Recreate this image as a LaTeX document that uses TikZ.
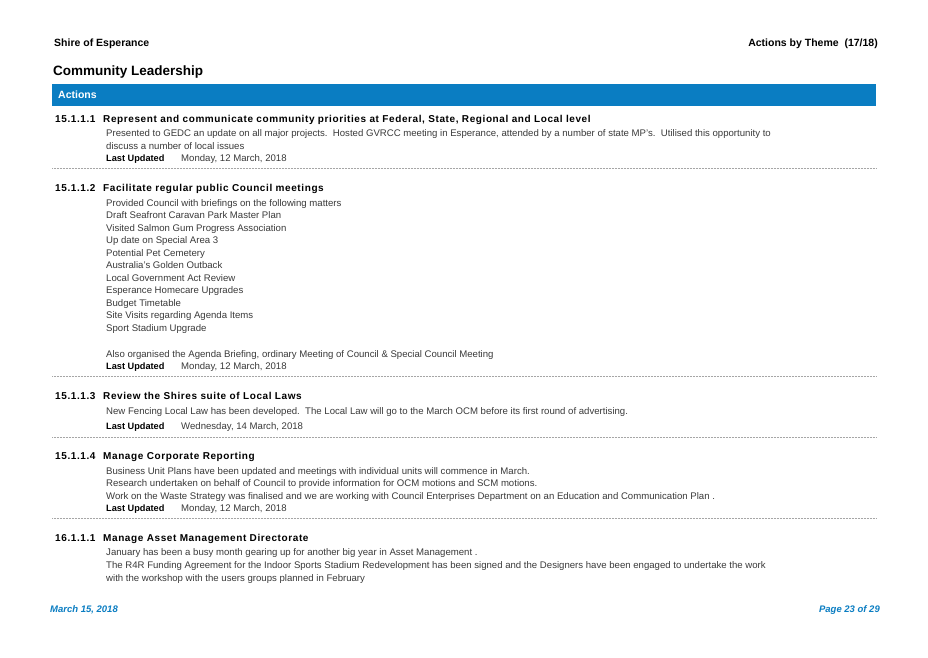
\documentclass[tikz,border=0pt]{standalone}
\usepackage{fontspec}
\setmainfont{Liberation Sans}
\definecolor{barblue}{HTML}{0A7DC2}
\definecolor{bodygrey}{HTML}{3A3A3A}
\begin{document}
\begin{tikzpicture}[x=1pt,y=-1pt,
  t/.style={anchor=base west,inner sep=0pt,font=\fontsize{9.6}{11}\selectfont,text=bodygrey},
  h/.style={anchor=base west,inner sep=0pt,font=\fontsize{10}{11}\selectfont\bfseries\addfontfeature{LetterSpace=6}},
  hh/.style={anchor=base west,inner sep=0pt,font=\fontsize{10.5}{11}\selectfont\bfseries},
  lu/.style={anchor=base west,inner sep=0pt,font=\fontsize{9.2}{10}\selectfont\bfseries},
  sep/.style={densely dotted,gray!70,line width=0.5pt}]
\useasboundingbox (0,0) rectangle (928,657);
\fill[white] (0,0) rectangle (928,657);
\node[hh] (shire) at (54,46) {Shire of Esperance};
\node[hh,anchor=base east] (abt) at (878,46) {Actions by Theme\ \ (17/18)};
\node[anchor=base west,inner sep=0pt,font=\fontsize{13.5}{15}\selectfont\bfseries] (title) at (53,75) {Community Leadership};
\fill[barblue] (52,84) rectangle (876,106);
\node[hh,text=white] (act) at (58,98) {Actions};
% 15.1.1.1
\node[h] at (55,122) {15.1.1.1}; \node[h] at (103,122) {Represent and communicate community priorities at Federal, State, Regional and Local level};
\node[t] at (106,136) {Presented to GEDC an update on all major projects.\ \ Hosted GVRCC meeting in Esperance, attended by a number of state MP's.\ \ Utilised this opportunity to};
\node[t] at (106,149) {discuss a number of local issues};
\node[lu] at (106,161) {Last Updated}; \node[t] at (181,161) {Monday, 12 March, 2018};
\draw[sep] (52,168) -- (876,168);
% 15.1.1.2
\node[h] at (55,191) {15.1.1.2}; \node[h] at (103,191) {Facilitate regular public Council meetings};
\foreach \s [count=\i from 0] in {Provided Council with briefings on the following matters,Draft Seafront Caravan Park Master Plan,Visited Salmon Gum Progress Association,Up date on Special Area 3,Potential Pet Cemetery,Australia's Golden Outback,Local Government Act Review,Esperance Homecare Upgrades,Budget Timetable,Site Visits regarding Agenda Items,Sport Stadium Upgrade}
  \node[t] at (106,{206+12.5*\i}) {\s};
\node[t] at (106,357) {Also organised the Agenda Briefing, ordinary Meeting of Council \& Special Council Meeting};
\node[lu] at (106,369) {Last Updated}; \node[t] at (181,369) {Monday, 12 March, 2018};
\draw[sep] (52,376) -- (876,376);
% 15.1.1.3
\node[h] at (55,399) {15.1.1.3}; \node[h] at (103,399) {Review the Shires suite of Local Laws};
\node[t] at (106,414) {New Fencing Local Law has been developed.\ \ The Local Law will go to the March OCM before its first round of advertising.};
\node[lu] at (106,429) {Last Updated}; \node[t] at (181,429) {Wednesday, 14 March, 2018};
\draw[sep] (52,437) -- (876,437);
% 15.1.1.4
\node[h] at (55,459) {15.1.1.4}; \node[h] at (103,459) {Manage Corporate Reporting};
\node[t] at (106,474) {Business Unit Plans have been updated and meetings with individual units will commence in March.};
\node[t] at (106,486) {Research undertaken on behalf of Council to provide information for OCM motions and SCM motions.};
\node[t] at (106,499) {Work on the Waste Strategy was finalised and we are working with Council Enterprises Department on an Education and Communication Plan .};
\node[lu] at (106,511) {Last Updated}; \node[t] at (181,511) {Monday, 12 March, 2018};
\draw[sep] (52,518) -- (876,518);
% 16.1.1.1
\node[h] at (55,541) {16.1.1.1}; \node[h] at (103,541) {Manage Asset Management Directorate};
\node[t] at (106,555) {January has been a busy month gearing up for another big year in Asset Management .};
\node[t] at (106,568) {The R4R Funding Agreement for the Indoor Sports Stadium Redevelopment has been signed and the Designers have been engaged to undertake the work};
\node[t] at (106,581) {with the workshop with the users groups planned in February};
% footer
\node[anchor=base west,inner sep=0pt,font=\fontsize{9.5}{10}\selectfont\bfseries\itshape,text=barblue] (date) at (50,612) {March 15, 2018};
\node[anchor=base east,inner sep=0pt,font=\fontsize{9.5}{10}\selectfont\bfseries\itshape,text=barblue] (page) at (880,612) {Page 23 of 29};
\end{tikzpicture}
\end{document}
